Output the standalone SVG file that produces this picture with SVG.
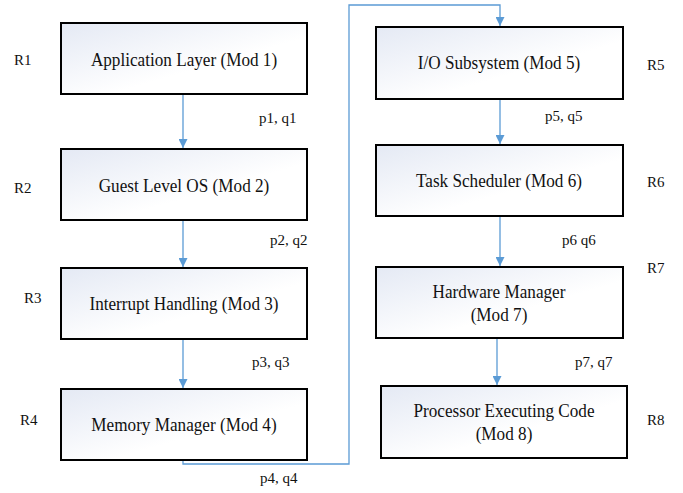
<svg xmlns="http://www.w3.org/2000/svg" width="683" height="493" viewBox="0 0 683 493">
<defs>
<linearGradient id="g" x1="0" y1="0" x2="1" y2="1">
<stop offset="0" stop-color="#e4e9f4"/>
<stop offset="0.6" stop-color="#ffffff"/>
<stop offset="1" stop-color="#ffffff"/>
</linearGradient>
<marker id="ah" viewBox="0 0 10 10" refX="10" refY="5" markerWidth="9" markerHeight="9" markerUnits="userSpaceOnUse" orient="auto">
<path d="M0,0 L10,5 L0,10 z" fill="#5b9bd5"/>
</marker>
<style>
.box{fill:url(#g);stroke:#000;stroke-width:2}
.t{font-family:"Liberation Serif","Times New Roman",serif;font-size:19.5px;fill:#111;text-anchor:middle}
.l{font-family:"Liberation Serif","Times New Roman",serif;font-size:15px;fill:#111}
.c{fill:none;stroke:#5b9bd5;stroke-width:1.3}
</style>
</defs>
<g id="connectors">
<path class="c" d="M183,94 V148" marker-end="url(#ah)"/>
<path class="c" d="M183,220 V267" marker-end="url(#ah)"/>
<path class="c" d="M183,339 V388" marker-end="url(#ah)"/>
<path class="c" d="M183,460 V464 H349 V5 H500 V26" marker-end="url(#ah)"/>
<path class="c" d="M500,99 V144" marker-end="url(#ah)"/>
<path class="c" d="M500,216 V266" marker-end="url(#ah)"/>
<path class="c" d="M497,338 V385" marker-end="url(#ah)"/>
</g>
<g id="n1"><rect class="box" x="61" y="23" width="246" height="71"/><text class="t" transform="translate(184,66) scale(0.88,1)">Application Layer (Mod 1)</text></g>
<g id="n2"><rect class="box" x="61" y="149" width="246" height="71"/><text class="t" transform="translate(184,191.5) scale(0.88,1)">Guest Level OS (Mod 2)</text></g>
<g id="n3"><rect class="box" x="61" y="268" width="246" height="71"/><text class="t" transform="translate(184,310) scale(0.88,1)">Interrupt Handling (Mod 3)</text></g>
<g id="n4"><rect class="box" x="61" y="389" width="246" height="71"/><text class="t" transform="translate(184,430.5) scale(0.88,1)">Memory Manager (Mod 4)</text></g>
<g id="n5"><rect class="box" x="376" y="27" width="247" height="72"/><text class="t" transform="translate(499,69) scale(0.88,1)">I/O Subsystem (Mod 5)</text></g>
<g id="n6"><rect class="box" x="376" y="145" width="247" height="71"/><text class="t" transform="translate(499,187) scale(0.88,1)">Task Scheduler (Mod 6)</text></g>
<g id="n7"><rect class="box" x="376" y="267" width="247" height="71"/><text class="t" transform="translate(499,298) scale(0.88,1)">Hardware Manager</text><text class="t" transform="translate(499,321) scale(0.88,1)">(Mod 7)</text></g>
<g id="n8"><rect class="box" x="381" y="386" width="246" height="72"/><text class="t" transform="translate(504,417) scale(0.88,1)">Processor Executing Code</text><text class="t" transform="translate(504,440) scale(0.88,1)">(Mod 8)</text></g>
<g id="labels">
<text class="l" x="14" y="65">R1</text>
<text class="l" x="14" y="193">R2</text>
<text class="l" x="24" y="303">R3</text>
<text class="l" x="20" y="425">R4</text>
<text class="l" x="647" y="70">R5</text>
<text class="l" x="647" y="187">R6</text>
<text class="l" x="647" y="273">R7</text>
<text class="l" x="647" y="425">R8</text>
<text class="l" x="259" y="123">p1, q1</text>
<text class="l" x="270" y="245">p2, q2</text>
<text class="l" x="252" y="367">p3, q3</text>
<text class="l" x="260" y="483">p4, q4</text>
<text class="l" x="545" y="121">p5, q5</text>
<text class="l" x="562" y="245">p6 q6</text>
<text class="l" x="575" y="367">p7, q7</text>
</g>
</svg>
